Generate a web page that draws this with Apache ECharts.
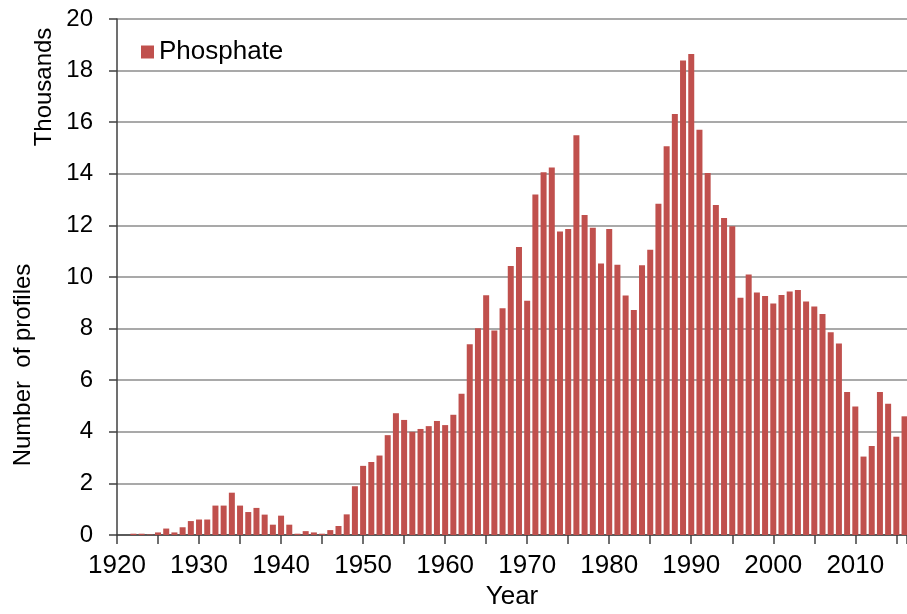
<!DOCTYPE html>
<html>
<head>
<meta charset="utf-8">
<script src="https://cdn.jsdelivr.net/npm/echarts@6/dist/echarts.min.js"></script>
<style>
  html, body { margin: 0; padding: 0; background: #fff; }
  #chart { width: 907px; height: 614px; }
</style>
</head>
<body>
<div id="chart"></div>
<script>
// profiles per year, in thousands
const years = [
  1922, 1923, 1924, 1925, 1926, 1927, 1928, 1929,
  1930, 1931, 1932, 1933, 1934, 1935, 1936, 1937, 1938, 1939,
  1940, 1941, 1942, 1943, 1944, 1945, 1946, 1947, 1948, 1949,
  1950, 1951, 1952, 1953, 1954, 1955, 1956, 1957, 1958, 1959,
  1960, 1961, 1962, 1963, 1964, 1965, 1966, 1967, 1968, 1969,
  1970, 1971, 1972, 1973, 1974, 1975, 1976, 1977, 1978, 1979,
  1980, 1981, 1982, 1983, 1984, 1985, 1986, 1987, 1988, 1989,
  1990, 1991, 1992, 1993, 1994, 1995, 1996, 1997, 1998, 1999,
  2000, 2001, 2002, 2003, 2004, 2005, 2006, 2007, 2008, 2009,
  2010, 2011, 2012, 2013, 2014, 2015, 2016
];
const phosphate = [
  0.05, 0.05, 0.02, 0.1, 0.25, 0.1, 0.3, 0.54,
  0.6, 0.6, 1.14, 1.14, 1.64, 1.14, 0.89, 1.05, 0.79, 0.4,
  0.75, 0.4, 0.05, 0.15, 0.1, 0.05, 0.19, 0.35, 0.8, 1.89,
  2.68, 2.83, 3.08, 3.87, 4.72, 4.46, 4.0, 4.11, 4.22, 4.42,
  4.26, 4.66, 5.47, 7.39, 8.01, 9.29, 7.93, 8.79, 10.43, 11.16,
  9.08, 13.2, 14.06, 14.24, 11.76, 11.86, 15.49, 12.4, 11.91, 10.52,
  11.86, 10.47, 9.28, 8.72, 10.46, 11.06, 12.84, 15.07, 16.32, 18.39,
  18.64, 15.71, 14.03, 12.79, 12.29, 11.97, 9.2, 10.1, 9.4, 9.26,
  8.97, 9.3, 9.44, 9.5, 9.05, 8.86, 8.57, 7.86, 7.42, 5.54,
  4.98, 3.04, 3.45, 5.54, 5.09, 3.81, 4.6
];

const font = '"Liberation Sans", Arial, sans-serif';
const chart = echarts.init(document.getElementById('chart'));

chart.setOption({
  animation: false,
  color: ['#C0504D'],
  textStyle: { fontFamily: font, color: '#000' },
  grid: { left: 117, top: 19, right: 0, bottom: 79, containLabel: false, outerBoundsMode: 'none' },
  legend: {
    data: ['Phosphate'],
    left: 136, top: 34,
    icon: 'rect',
    itemWidth: 13, itemHeight: 13,
    itemGap: 6,
    textStyle: { fontSize: 26, color: '#000', fontFamily: font }
  },
  xAxis: {
    type: 'value',
    min: 1920, max: 2016.3,
    interval: 5,
    name: 'Year',
    nameLocation: 'middle',
    nameGap: 49,
    nameMoveOverlap: false,
    nameTextStyle: { fontSize: 26, color: '#000' },
    axisLine: { lineStyle: { color: '#404040', width: 1.5 } },
    axisTick: { length: 9, lineStyle: { color: '#404040', width: 1.5 } },
    axisLabel: {
      fontSize: 26, color: '#000', margin: 18,
      formatter: v => (v % 10 === 0 ? String(v) : '')
    },
    splitLine: { show: false }
  },
  yAxis: {
    type: 'value',
    min: 0, max: 20, interval: 2,
    axisLine: { show: true, lineStyle: { color: '#404040', width: 1.5 } },
    axisTick: { show: true, length: 8, lineStyle: { color: '#404040', width: 1.5 } },
    axisLabel: { fontSize: 24, color: '#000', margin: 24 },
    splitLine: { lineStyle: { color: '#8c8c8c', width: 1.5 } }
  },
  graphic: [
    {
      type: 'text', x: 44, y: 87, rotation: Math.PI / 2,
      style: { text: 'Thousands', font: '24px ' + font, fill: '#000', align: 'center', verticalAlign: 'middle' }
    },
    {
      type: 'text', x: 23, y: 365, rotation: Math.PI / 2,
      style: { text: 'Number  of profiles', font: '24px ' + font, fill: '#000', align: 'center', verticalAlign: 'middle' }
    }
  ],
  series: [
    {
      name: 'Phosphate',
      type: 'bar',
      barWidth: 6,
      data: years.map((y, i) => [y, phosphate[i]])
    }
  ]
});
</script>
</body>
</html>
